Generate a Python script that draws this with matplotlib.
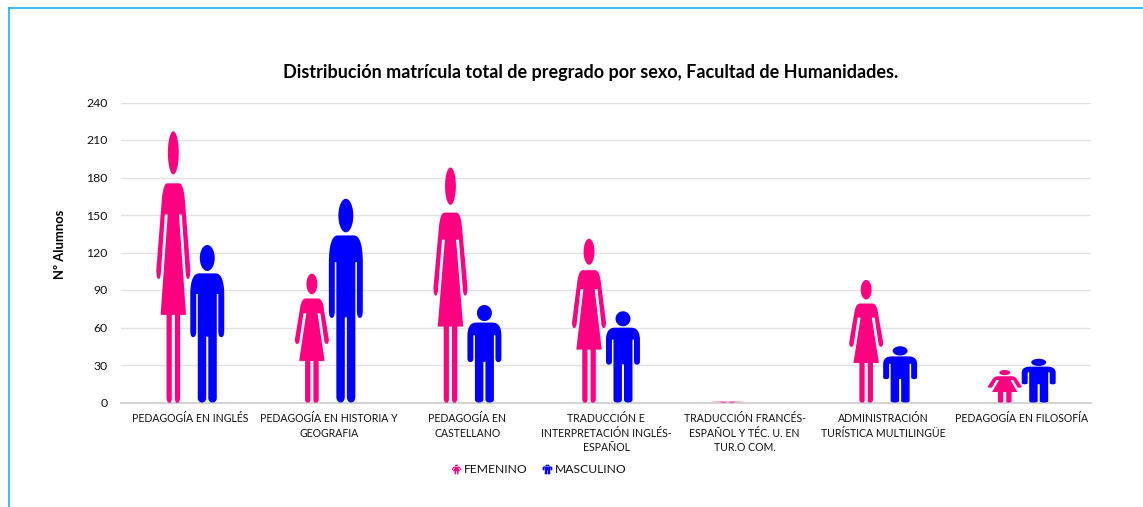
import numpy as np
import matplotlib
matplotlib.use("Agg")
import matplotlib.pyplot as plt
from matplotlib.path import Path
from matplotlib.patches import PathPatch
from matplotlib.lines import Line2D
from matplotlib.transforms import Affine2D

plt.rcParams['font.family'] = ['Lato', 'DejaVu Sans']

categories = ["PEDAGOGÍA EN INGLÉS", "PEDAGOGÍA EN HISTORIA Y\nGEOGRAFIA", "PEDAGOGÍA EN\nCASTELLANO",
              "TRADUCCIÓN E\nINTERPRETACIÓN INGLÉS-\nESPAÑOL", "TRADUCCIÓN FRANCÉS-\nESPAÑOL Y TÉC. U. EN\nTUR.O COM.",
              "ADMINISTRACIÓN\nTURÍSTICA MULTILINGÜE", "PEDAGOGÍA EN FILOSOFÍA"]
femenino = [217, 103, 188, 131, 1, 98, 26]
masculino = [126, 163, 78, 73, 0, 45, 35]
yticks = [0, 30, 60, 90, 120, 150, 180, 210, 240]
PINK = "#FF0080"
BLUE = "#0000FF"
W, H = 1143, 507


def quad(p0, c, p1, n=10):
    t = np.linspace(0, 1, n)[:, None]
    p0, c, p1 = map(np.array, (p0, c, p1))
    return ((1 - t) ** 2 * p0 + 2 * t * (1 - t) * c + t ** 2 * p1).tolist()


def figure_shape(half, head_w, head_lo, head_hi):
    half = np.array(half, float)
    left = half[::-1] * [-1, 1]
    body = Path(np.vstack([half, left, half[:1]]), closed=True)
    t = np.linspace(0, 2 * np.pi, 60)
    cy, ry = (head_lo + head_hi) / 2, (head_hi - head_lo) / 2
    head = Path(np.c_[head_w * np.cos(t), cy + ry * np.sin(t)], closed=True)
    return Path.make_compound_path(body, head)


woman_half = ([(0, .808), (.36, .808)] + quad((.36, .808), (.62, .808), (.70, .73))
              + [(1.0, .49)] + quad((1.0, .49), (.995, .455), (.87, .455)) + quad((.87, .455), (.74, .455), (.72, .49))
              + [(.50, .693), (.33, .693), (.75, .323), (.40, .323), (.40, .015)]
              + quad((.40, .015), (.33, -.005), (.24, 0)) + quad((.24, 0), (.12, -.005), (.09, .015))
              + [(.09, .323), (0, .323)])
man_half = ([(0, .82), (.48, .82)] + quad((.48, .82), (.96, .82), (1, .70))
            + [(1, .45)] + quad((1, .45), (.99, .415), (.83, .415)) + quad((.83, .415), (.66, .415), (.65, .45))
            + [(.65, .689), (.56, .689), (.56, .025)]
            + quad((.56, .025), (.52, 0), (.31, 0)) + quad((.31, 0), (.10, 0), (.06, .025))
            + [(.06, .418), (0, .418)])
WOMAN = figure_shape(woman_half, .32, .841, 1.0)
MAN = figure_shape(man_half, .44, .835, 1.0)

fig = plt.figure(figsize=(W / 100, H / 100), dpi=100)
L, R, T, B = 121, 1091, 102.5, 402.5
ax = fig.add_axes([L / W, 1 - B / H, (R - L) / W, (B - T) / H])
x = np.arange(len(categories))
bw = 0.245
ax.set_xlim(-.5, len(categories) - .5)
ax.set_ylim(0, 240)


def draw(shape, cx, value, color):
    if value <= 0:
        return
    tr = Affine2D().scale(bw / 2, value).translate(cx, 0) + ax.transData
    ax.add_patch(PathPatch(shape, transform=tr, fc=color, ec="none", lw=0, zorder=3, clip_on=False))


for i in x:
    draw(WOMAN, i - bw / 2, femenino[i], PINK)
    draw(MAN, i + bw / 2, masculino[i], BLUE)

ax.set_yticks(yticks)
ax.set_xticks(x)
ax.set_xticklabels(categories, fontsize=7.6, linespacing=1.42, color="#111111")
ax.tick_params(axis='y', length=0, labelsize=8.8, pad=9.5, labelcolor="#111111")
ax.tick_params(axis='x', length=0, pad=7.5)
ax.grid(axis='y', color="#E2E2E2", lw=1)
ax.set_axisbelow(True)
for s in ("top", "left", "right"):
    ax.spines[s].set_visible(False)
ax.spines["bottom"].set_color("#D0D0D0")
ax.spines["bottom"].set_linewidth(1.3)

fig.text(591 / W, 1 - 72.5 / H, "Distribución matrícula total de pregrado por sexo, Facultad de Humanidades.",
         ha="center", va="center", fontsize=13, fontweight="bold", color="#000000")
fig.text(60 / W, 1 - 244.5 / H, "Nº Alumnos", rotation=90, ha="center", va="center",
         fontsize=9.4, fontweight="bold", color="#000000")

icon_w = Path((WOMAN.vertices - [0, .5]) * [1, 2], WOMAN.codes)
icon_m = Path((MAN.vertices - [0, .5]) * [1, 2], MAN.codes)
handles = [Line2D([], [], ls="none", marker=icon_w, color=PINK, ms=7, mew=0, label="FEMENINO"),
           Line2D([], [], ls="none", marker=icon_m, color=BLUE, ms=7, mew=0, label="MASCULINO")]
fig.legend(handles=handles, loc="center", bbox_to_anchor=(538.5 / W, 1 - 469.5 / H), ncol=2, frameon=False,
           fontsize=8.7, handlelength=0.8, handletextpad=0.25, columnspacing=1.2, labelcolor="#111111", borderpad=0)

frame = "#00B0F0"
fig.add_artist(Line2D([8.5 / W, 8.5 / W], [0, 1 - 7.5 / H], color=frame, lw=1.1))
fig.add_artist(Line2D([8.5 / W, 1], [1 - 7.5 / H, 1 - 7.5 / H], color=frame, lw=1.1))

fig.savefig("out.png", dpi=100)
